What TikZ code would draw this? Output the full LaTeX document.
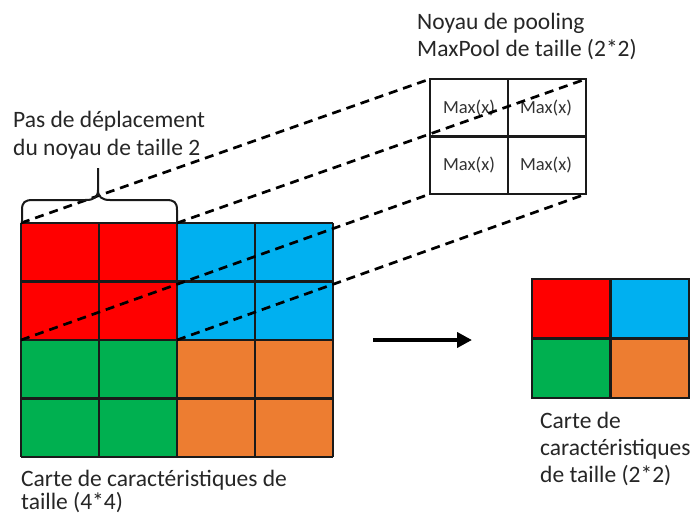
\documentclass[tikz,border=0pt]{standalone}
\usepackage{fontspec}
\setmainfont{Carlito}
\usetikzlibrary{arrows.meta}
\definecolor{cred}{HTML}{FF0000}
\definecolor{cblue}{HTML}{00B0F0}
\definecolor{cgreen}{HTML}{00B050}
\definecolor{corange}{HTML}{ED7D31}
\definecolor{gline}{HTML}{1A1A1A}
\begin{document}
\begin{tikzpicture}[x=1pt,y=-1pt,
  gridln/.style={draw=gline, line width=2.1pt},
  proj/.style={draw=black, line width=2.7pt, dash pattern=on 9pt off 6pt},
  lbl/.style={anchor=base west, inner sep=0pt, font=\fontsize{23.5}{28}\selectfont, text=black!85},
  maxlbl/.style={inner sep=0pt, font=\fontsize{18.5}{22}\selectfont, text=black!80},
  blk/.style={inner sep=0pt, outer sep=0pt, minimum width=156pt, minimum height=117pt}]
\useasboundingbox[fill=white] (0,0) rectangle (696,516);

% ---- big 4x4 feature map
\fill[cred]    (21,223) rectangle (177,340);
\fill[cblue]   (177,223) rectangle (333,340);
\fill[cgreen]  (21,340) rectangle (177,457);
\fill[corange] (177,340) rectangle (333,457);
\foreach \x in {21,99,177,255,333} \draw[gridln] (\x,223) -- (\x,457);
\foreach \y in {223,281.5,340,398.5,457} \draw[gridln] (21,\y) -- (333,\y);
\node[blk] (redblk) at (99,281.5) {};

% ---- pooling kernel
\node[blk, minimum height=115pt] (kernel) at (508,136.5) {};
\draw[gridln] (430,79) rectangle (586,194);
\draw[gridln] (508,79) -- (508,194);
\draw[gridln] (430,136.5) -- (586,136.5);
\node[maxlbl] (m11) at (469,108) {Max(x)};
\node[maxlbl] (m12) at (546,108) {Max(x)};
\node[maxlbl] (m21) at (469,165) {Max(x)};
\node[maxlbl] (m22) at (546,165) {Max(x)};

% ---- projection lines
\draw[proj] (redblk.north west) -- (kernel.north west);
\draw[proj] (redblk.north east) -- (kernel.north east);
\draw[proj] (redblk.south west) -- (kernel.south west);
\draw[proj] (redblk.south east) -- (kernel.south east);

% ---- brace
\draw[line width=2pt, black!90]
  (22,222) -- (22,210) .. controls (22,202) and (25,200) .. (33,200)
  -- (86,200) .. controls (94,200) and (98,197) .. (98,190) -- (98,168)
  (98,190) .. controls (98,197) and (102,200) .. (110,200)
  -- (166,200) .. controls (174,200) and (177,202) .. (177,210) -- (177,222);

% ---- arrow
\coordinate (as) at (373,340);
\coordinate (ae) at (472,340);
\draw[line width=4.2pt, -{Triangle[length=15pt,width=15pt]}] (as) -- (ae);

% ---- small 2x2 map
\fill[cred]    (532,279) rectangle (610.5,338.5);
\fill[cblue]   (610.5,279) rectangle (689,338.5);
\fill[cgreen]  (532,338.5) rectangle (610.5,398);
\fill[corange] (610.5,338.5) rectangle (689,398);
\draw[gridln] (532,279) rectangle (689,398);
\draw[gridln] (610.5,279) -- (610.5,398);
\draw[gridln] (532,338.5) -- (689,338.5);

% ---- labels
\node[lbl] (t1a) at (13,128) {Pas de déplacement};
\node[lbl] (t1b) at (13,155) {du noyau de taille 2};
\node[lbl] (t2a) at (417,30) {Noyau de pooling};
\node[lbl] (t2b) at (417,57) {MaxPool de taille (2*2)};
\node[lbl] (t3a) at (21,486) {Carte de caractéristiques de};
\node[lbl] (t3b) at (21,509) {taille (4*4)};
\node[lbl] (t4a) at (540,428) {Carte de};
\node[lbl] (t4b) at (540,455) {caractéristiques};
\node[lbl] (t4c) at (540,482) {de taille (2*2)};
\end{tikzpicture}
\end{document}
